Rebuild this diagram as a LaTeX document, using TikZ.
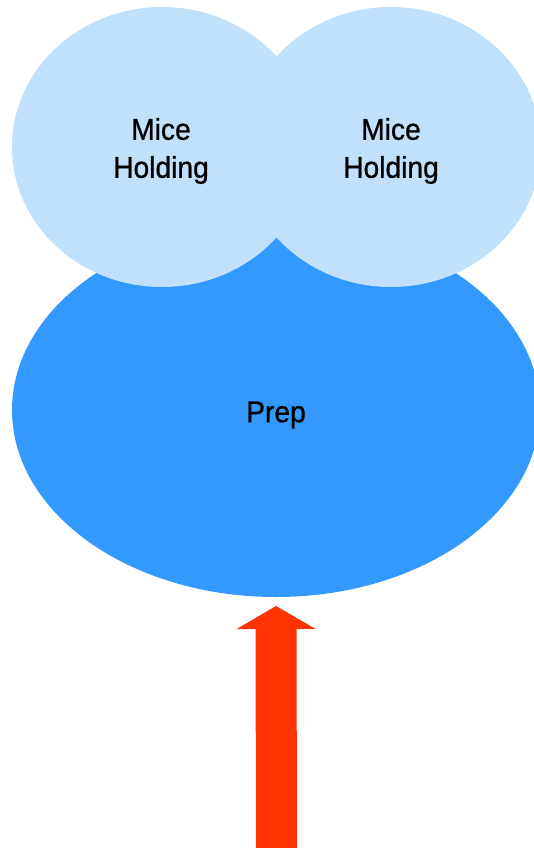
\documentclass[tikz,border=0pt]{standalone}
\usepackage{fontspec}
\newfontfamily\labfont{Liberation Sans}[FakeStretch=0.94,FakeBold=0.8]
\usetikzlibrary{shapes.geometric,arrows.meta}
\definecolor{lightblue}{HTML}{C0E0FC}
\definecolor{prepblue}{HTML}{3399FF}
\definecolor{arrowred}{HTML}{FF3300}
\tikzset{
  miceshape/.style={ellipse, fill=lightblue, inner sep=0pt, outer sep=0pt, minimum width=300pt, minimum height=280pt},
  prepshape/.style={ellipse, fill=prepblue, inner sep=0pt, outer sep=0pt, minimum width=528pt, minimum height=374pt},
  lab/.style={font=\labfont\fontsize{30}{38}\selectfont, text=black, align=center, inner sep=0pt},
  blockarrow/.style={draw=arrowred, line width=41pt, -{Triangle[width=79pt,length=23pt,line width=0pt,fill=arrowred]}}
}
\begin{document}
\begin{tikzpicture}[x=1pt,y=-1pt]
\useasboundingbox (0,0) rectangle (534,848);
\clip (0,0) rectangle (534,848);
\node[prepshape] (prep) at (276,410) {};
\node[miceshape] (miceL) at (162,147) {};
\node[miceshape] (miceR) at (391,147) {};
\node[lab] (prepT) at (276,415) {Prep};
\node[lab] (miceLT) at (161,151) {Mice\\Holding};
\node[lab] (miceRT) at (391,151) {Mice\\Holding};
\coordinate (src) at (276.5,860);
\draw[blockarrow] (src) -- ([yshift=-9pt]prep.south);
\end{tikzpicture}
\end{document}
